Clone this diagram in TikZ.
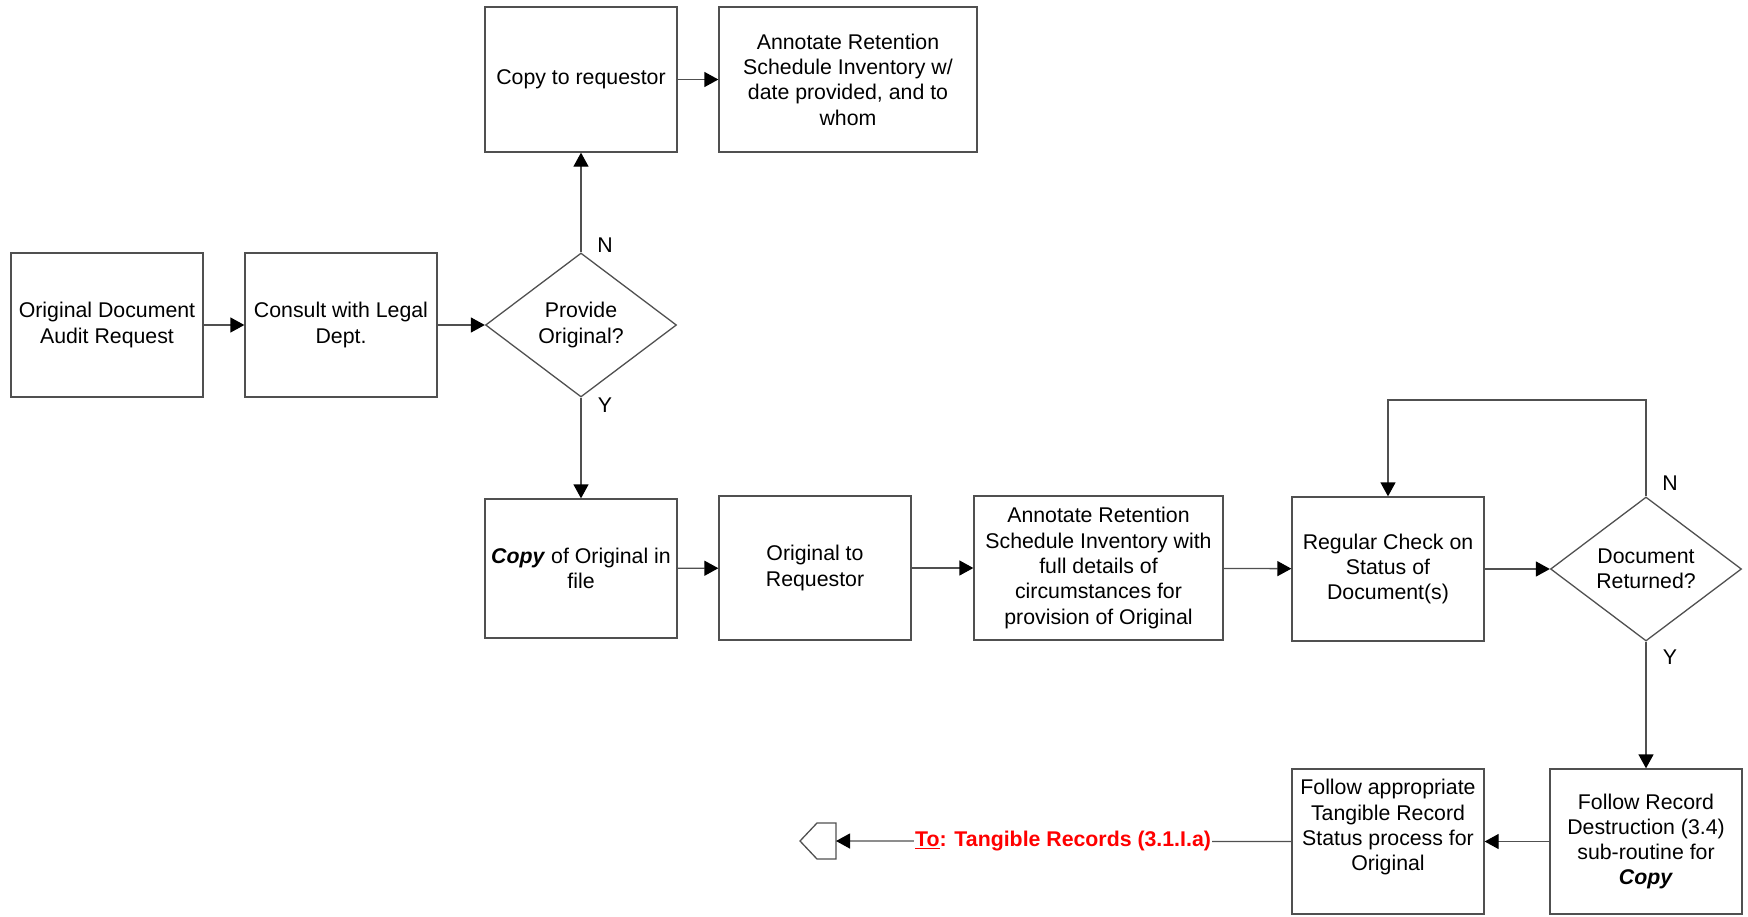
\documentclass[tikz,border=0pt]{standalone}
\usepackage{fontspec}
\setmainfont{Liberation Sans}
\usetikzlibrary{shapes.geometric,arrows.meta}
\definecolor{linegray}{RGB}{80,80,80}
\begin{document}
\begin{tikzpicture}[x=1pt,y=-1pt,
  txt/.style={font=\fontsize{21.3}{25.3}\selectfont},
  box/.style={txt, draw=linegray, line width=1.3pt, minimum width=192pt,
    minimum height=144pt, inner sep=0pt, align=center},
  decision/.style={txt, draw=linegray, line width=1.3pt, diamond, aspect=1.32,
    minimum width=191pt, minimum height=144pt, inner sep=0pt, align=center},
  flow/.style={draw=linegray, line width=1.3pt,
    -{Triangle[length=14pt,width=15pt,fill=black,color=black]}},
  plain/.style={draw=linegray, line width=1.3pt},
  branch/.style={txt}
]
\useasboundingbox (0,0) rectangle (1748,916);

% upper branch and entry row
\node[box] (orig) at (107,325) {Original Document\\Audit Request};
\node[box] (consult) at (341,325) {Consult with Legal\\Dept.};
\node[decision] (prov) at (581,325) {Provide\\Original?};
\node[box, minimum height=145pt] (copyreq) at (581,79.5) {Copy to requestor};
\node[box, minimum width=258pt, minimum height=145pt] (annot1) at (848,79.5)
  {Annotate Retention\\Schedule Inventory w/\\date provided, and to\\whom};

% lower row
\node[box, minimum height=139pt] (copyorig) at (581,568.5)
  {\textbf{\textit{Copy}} of Original in\\file};
\node[box] (origreq) at (815,568) {Original to\\Requestor};
\node[box, minimum width=249pt] (annot2) at (1098.5,568)
  {Annotate Retention\\Schedule Inventory with\\full details of\\circumstances for\\provision of Original};
\node[box] (regular) at (1388,569) {Regular Check on\\Status of\\Document(s)};
\node[decision] (ret) at (1646,569) {Document\\Returned?};

% closing row
\node[box, minimum height=145pt] (follrec) at (1646,841.5)
  {Follow Record\\Destruction (3.4)\\sub-routine for\\\textbf{\textit{Copy}}};
\node[box, minimum height=145pt] (follapp) at (1388,841.5)
  {Follow appropriate\\Tangible Record\\Status process for\\Original\\\strut};

% off-page connector
\coordinate (off) at (836,841);
\draw[plain] (836,823) -- (817,823) -- (800,841) -- (817,859) -- (836,859) -- cycle;

% connectors
\draw[flow] (orig) -- (consult);
\draw[flow] (consult) -- (prov);
\draw[flow] (prov.north) -- (copyreq.south);
\draw[flow] (copyreq) -- (annot1);
\draw[flow] (prov.south) -- (copyorig.north);
\draw[flow] (copyorig) -- (origreq);
\draw[flow] (origreq) -- (annot2);
\draw[flow] (annot2) -- (regular);
\draw[flow] (regular) -- (ret);
\coordinate (looptop) at (1646,400);
\draw[flow] (ret.north) -- (looptop) -| (regular.north);
\draw[flow] (ret.south) -- (follrec.north);
\draw[flow] (follrec) -- (follapp);
\draw[flow] (follapp.west) -- (off);
\node[txt, fill=white, inner sep=1pt, text=red, font=\fontsize{21.3}{25.3}\selectfont\bfseries]
  (tolabel) at (1063,841) {\underline{To}: Tangible Records (3.1.I.a)};

% branch labels
\node[branch] (n1) at (605,245) {N};
\node[branch] (y1) at (605,405) {Y};
\node[branch] (n2) at (1670,483) {N};
\node[branch] (y2) at (1670,657) {Y};
\end{tikzpicture}
\end{document}
